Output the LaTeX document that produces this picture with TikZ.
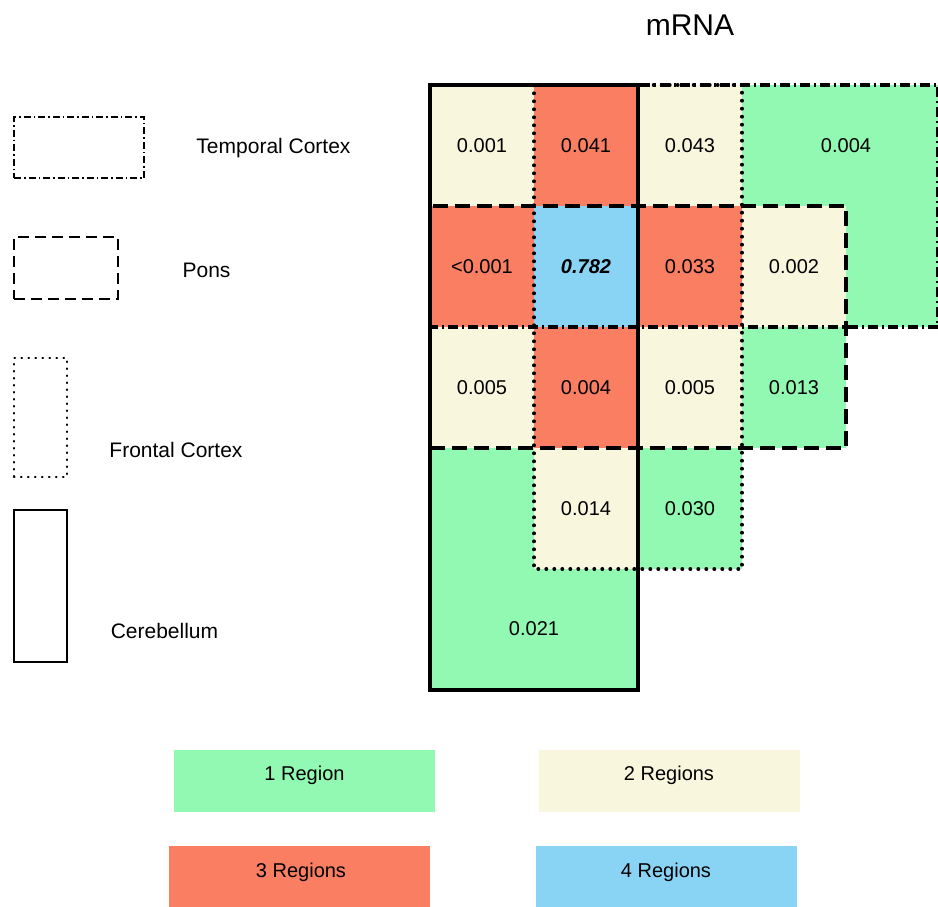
\documentclass[tikz,border=0pt]{standalone}
\usepackage{fontspec}
\setmainfont{Liberation Sans}
\usepackage{tikz}
\usetikzlibrary{positioning}
\definecolor{oneReg}{RGB}{146,249,178}
\definecolor{twoReg}{RGB}{248,247,221}
\definecolor{threeReg}{RGB}{249,126,98}
\definecolor{fourReg}{RGB}{137,212,245}
\tikzset{
  cell/.style={
    anchor=north west, minimum width=104pt, minimum height=121pt,
    inner sep=0pt, outer sep=0pt, font=\fontsize{20}{22}\selectfont
  },
  temporal/.style={dash pattern=on 10pt off 4pt on 2pt off 4pt, line width=3.2pt},
  pons/.style={dash pattern=on 15pt off 7pt, line width=3.2pt},
  frontal/.style={dash pattern=on 0.6pt off 7.4pt, line cap=round, line width=3.2pt},
  cerebellum/.style={line width=3.5pt},
  keybox/.style={draw, inner sep=0pt, outer sep=0pt, line width=2pt},
  keytext/.style={anchor=base, font=\fontsize{21}{24}\selectfont},
  legbox/.style={minimum width=261pt, minimum height=62pt, inner sep=0pt},
  legtext/.style={anchor=base, font=\fontsize{20}{22}\selectfont},
}
\begin{document}
\begin{tikzpicture}[x=1pt, y=-1pt, node distance=0pt]
  \useasboundingbox (0,0) rectangle (938,906);
  \node[anchor=base, font=\fontsize{30}{32}\selectfont] (title) at (690,35) {mRNA};

  % merged cells
  \fill[oneReg] (742,85) -- (938,85) -- (938,327) -- (846,327) -- (846,206) -- (742,206) -- cycle;
  \fill[oneReg] (430,448) -- (534,448) -- (534,569) -- (638,569) -- (638,690) -- (430,690) -- cycle;
  \node[font=\fontsize{20}{22}\selectfont] (c03) at (846,146) {0.004};
  \node[font=\fontsize{20}{22}\selectfont] (c40) at (534,629) {0.021};

  % grid
  \node[cell, fill=twoReg] (c00) at (430,85) {0.001};
  \node[cell, fill=threeReg, right=of c00] (c01) {0.041};
  \node[cell, fill=twoReg, right=of c01] (c02) {0.043};

  \node[cell, fill=threeReg, below=of c00] (c10) {<0.001};
  \node[cell, fill=fourReg, right=of c10] (c11) {\textbf{\textit{0.782}}};
  \node[cell, fill=threeReg, right=of c11] (c12) {0.033};
  \node[cell, fill=twoReg, right=of c12] (c13) {0.002};

  \node[cell, fill=twoReg, below=of c10] (c20) {0.005};
  \node[cell, fill=threeReg, right=of c20] (c21) {0.004};
  \node[cell, fill=twoReg, right=of c21] (c22) {0.005};
  \node[cell, fill=oneReg, right=of c22] (c23) {0.013};

  \node[cell, fill=twoReg, below=of c21] (c31) {0.014};
  \node[cell, fill=oneReg, right=of c31] (c32) {0.030};

  % region outlines
  \coordinate (tc) at (938,327);
  \coordinate (cb) at (638,690);
  \draw[frontal] (c01.north west) rectangle (c32.south east);
  \draw[pons] (c10.north west) rectangle (c23.south east);
  \draw[temporal] (c00.north west) rectangle (tc);
  \draw[cerebellum] (c00.north west) rectangle (cb);

  % key
  \node[keybox, temporal, line width=2.2pt, dash pattern=on 7pt off 3pt on 1.5pt off 3pt,
    minimum width=130pt, minimum height=61pt] (ktc) at (79,147.5) {};
  \node[keytext] (ltc) at (273.5,153) {Temporal Cortex};
  \node[keybox, pons, line width=2.4pt, dash pattern=on 11pt off 6pt,
    minimum width=104pt, minimum height=62pt] (kpo) at (66,268) {};
  \node[keytext] (lpo) at (206.5,277) {Pons};
  \node[keybox, frontal, line width=2.4pt, dash pattern=on 0.5pt off 6.5pt,
    minimum width=53pt, minimum height=119pt] (kfc) at (40.5,417.5) {};
  \node[keytext] (lfc) at (176,457) {Frontal Cortex};
  \node[keybox, minimum width=53pt, minimum height=152pt] (kcb) at (40.5,586) {};
  \node[keytext] (lcb) at (164.5,638) {Cerebellum};

  % legend
  \node[legbox, fill=oneReg] (one) at (304.5,781) {};
  \node[legtext] (onet) at (304.5,780) {1 Region};
  \node[legbox, fill=twoReg] (two) at (669,781) {};
  \node[legtext] (twot) at (669,780) {2 Regions};
  \node[legbox, fill=threeReg] (three) at (299.5,877) {};
  \node[legtext] (threet) at (301,877) {3 Regions};
  \node[legbox, fill=fourReg] (four) at (666,877) {};
  \node[legtext] (fourt) at (666,877) {4 Regions};
\end{tikzpicture}
\end{document}
